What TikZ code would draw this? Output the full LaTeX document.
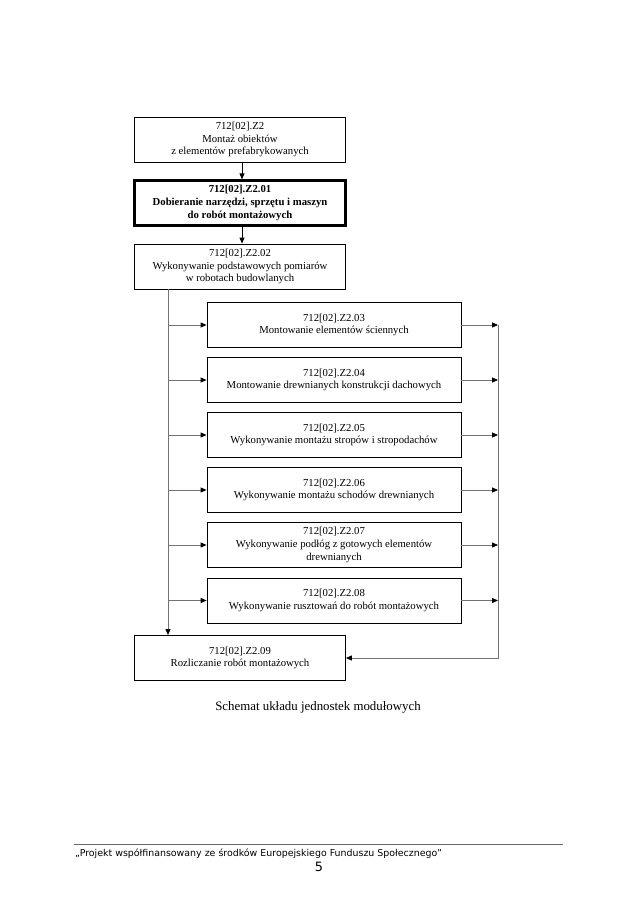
\documentclass[tikz,border=0pt]{standalone}
\usepackage{fontspec}
\setmainfont{Liberation Serif}
\newfontfamily\footfont{DejaVu Sans}
\usetikzlibrary{arrows.meta}
\begin{document}
\begin{tikzpicture}[x=0.9333pt,y=-0.9333pt,
  box/.style={draw=black,line width=0.8pt,rectangle,inner sep=0pt,align=center,
    font=\fontsize{10}{11.8}\selectfont},
  topbox/.style={box,minimum width=196.9pt,minimum height=42pt},
  midbox/.style={box,minimum width=237pt,minimum height=42pt},
  thickbox/.style={topbox,line width=2.2pt,font=\fontsize{10}{11.8}\selectfont\bfseries},
  conn/.style={draw=black!55,line width=0.8pt},
  arr/.style={-{Triangle[length=5.5pt,width=4.6pt,color=black]}},
]
\useasboundingbox[fill=white] (0,0) rectangle (638,903);

\node[topbox] (n1) at (240,139.5) {712[02].Z2\\Montaż obiektów\\z elementów prefabrykowanych};
\node[thickbox] (n2) at (240,203) {712[02].Z2.01\\Dobieranie narzędzi, sprzętu i maszyn\\do robót montażowych};
\node[topbox] (n3) at (240,266.5) {712[02].Z2.02\\Wykonywanie podstawowych pomiarów\\w robotach budowlanych};

\node[midbox] (m3) at (334,325) {712[02].Z2.03\\Montowanie elementów ściennych};
\node[midbox] (m4) at (334,380) {712[02].Z2.04\\Montowanie drewnianych konstrukcji dachowych};
\node[midbox] (m5) at (334,435) {712[02].Z2.05\\Wykonywanie montażu stropów i stropodachów};
\node[midbox] (m6) at (334,490) {712[02].Z2.06\\Wykonywanie montażu schodów drewnianych};
\node[midbox] (m7) at (334,545) {712[02].Z2.07\\Wykonywanie podłóg z gotowych elementów\\drewnianych};
\node[midbox] (m8) at (334,600.5) {712[02].Z2.08\\Wykonywanie rusztowań do robót montażowych};

\node[topbox] (n9) at (240,658) {712[02].Z2.09\\Rozliczanie robót montażowych};

\coordinate (A) at (242,0);
\coordinate (L) at (168,0);
\coordinate (R) at (498,0);

\draw[line width=0.8pt,black,arr] (n1.south -| A) -- (n2.north -| A);
\draw[line width=0.8pt,black,arr] (n2.south -| A) -- (n3.north -| A);

\draw[conn,arr] (n3.south -| L) -- (n9.north -| L);
\foreach \m in {m3,m4,m5,m6,m7,m8}{
  \draw[conn,arr] (\m.west -| L) -- (\m.west);
  \draw[conn,arr] (\m.east) -- (\m.east -| R);
}
\draw[conn,arr] (m3.east -| R) |- (n9.east);

\node[font=\fontsize{12}{14}\selectfont] (cap) at (318,707) {Schemat układu jednostek modułowych};

\coordinate (f1) at (74,844);
\coordinate (f2) at (563,844);
\draw[draw=black!60,line width=0.8pt] (f1) -- (f2);
\node[anchor=base west,inner sep=0pt,font=\footfont\fontsize{8.8}{10}\selectfont] (ft) at (75,856) {„Projekt współfinansowany ze środków Europejskiego Funduszu Społecznego”};
\node[anchor=base,inner sep=0pt,font=\footfont\fontsize{12}{14}\selectfont] (pg) at (319,871) {5};
\end{tikzpicture}
\end{document}
